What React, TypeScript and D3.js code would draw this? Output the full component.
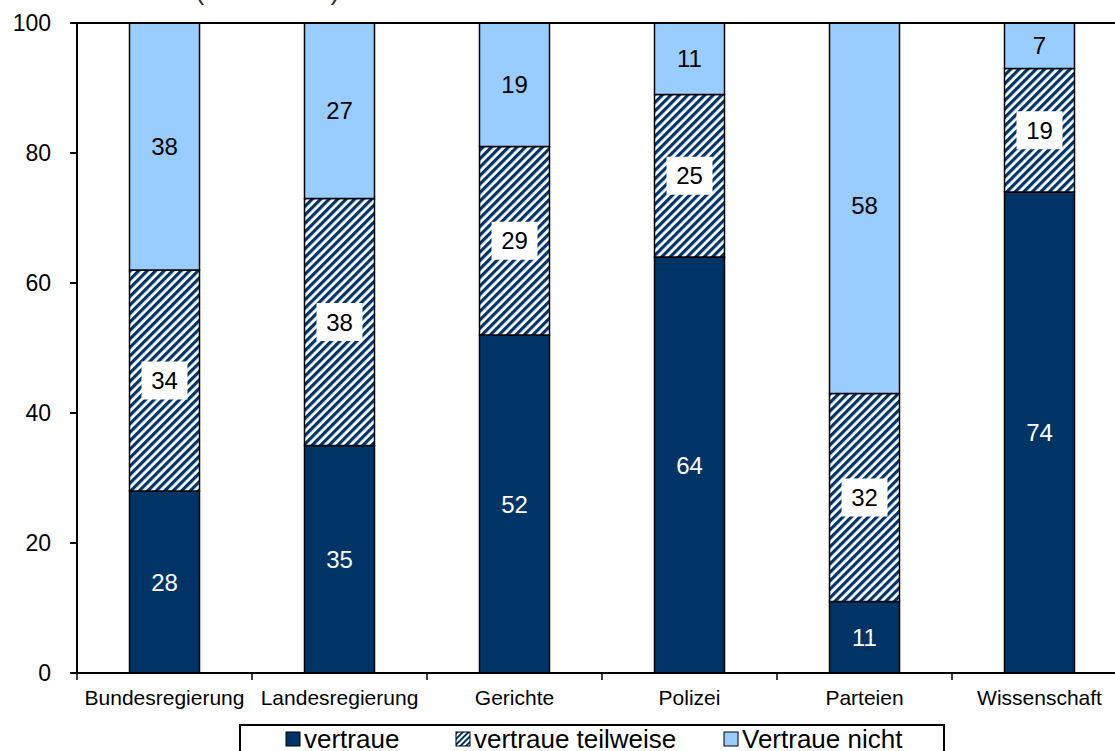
import React from "react";
import * as d3 from "d3";

const categories = ["Bundesregierung", "Landesregierung", "Gerichte", "Polizei", "Parteien", "Wissenschaft"];
const vertraue = [28, 35, 52, 64, 11, 74];
const teilweise = [34, 38, 29, 25, 32, 19];
const nicht = [38, 27, 19, 11, 58, 7];
const yTicks = [0, 20, 40, 60, 80, 100];
const seriesNames = ["vertraue", "vertraue teilweise", "Vertraue nicht"];

const NAVY = "#003366";
const LIGHT = "#99CCFF";
const FONT = "Arial, 'Liberation Sans', sans-serif";

export default function App() {
  const W = 1115, H = 751;
  const x = d3.scaleBand<string>().domain(categories).range([77, 1127]).paddingInner(0.6).paddingOuter(0.3);
  const y = d3.scaleLinear().domain([0, 100]).range([673, 23]);

  const rows = categories.map((c, i) => ({ cat: c, v: vertraue[i], t: teilweise[i], n: nicht[i] }));
  const stack = d3.stack<any>().keys(["v", "t", "n"])(rows as any);
  const fills = [NAVY, "url(#hatch)", LIGHT];

  const step = x.step();
  return (
    <svg width={W} height={H} style={{ position: "absolute", left: 0, top: 0, background: "#fff" }} fontFamily={FONT}>
      <defs>
        <pattern id="hatch" patternUnits="userSpaceOnUse" width={6} height={6} patternTransform="rotate(45)">
          <rect x={0} y={0} width={6} height={6} fill="#fff" />
          <rect x={0} y={0} width={3.2} height={6} fill={NAVY} />
        </pattern>
        <pattern id="hatchLegend" patternUnits="userSpaceOnUse" width={4} height={4} patternTransform="rotate(45)">
          <rect x={0} y={0} width={4} height={4} fill="#fff" />
          <rect x={0} y={0} width={2} height={4} fill={NAVY} />
        </pattern>
        <clipPath id="plotClip">
          <rect x={0} y={y(100)} width={W} height={y(0) - y(100)} />
        </clipPath>
      </defs>
      <rect x={0} y={0} width={W} height={H} fill="#fff" />
      <text x={195} y={-1.5} fontSize={28} fill="#333">(in Prozent)</text>

      <g clipPath="url(#plotClip)">
        {stack.map((layer, si) =>
          layer.map((d, i) => {
            const x0 = x(categories[i])!;
            const top = y(d[1]);
            const bot = y(d[0]);
            return (
              <rect key={`${si}-${i}`} x={x0} y={top} width={x.bandwidth()} height={bot - top}
                fill={fills[si]} stroke="#000" strokeWidth={1.5} />
            );
          })
        )}
      </g>

      {stack.map((layer, si) =>
        layer.map((d, i) => {
          const cx = x(categories[i])! + x.bandwidth() / 2;
          const cy = y((d[0] + d[1]) / 2);
          const val = d[1] - d[0];
          return (
            <g key={`l${si}-${i}`}>
              {si === 1 && <rect x={cx - 23} y={cy - 19} width={46} height={38} fill="#fff" />}
              <text x={cx} y={cy} dy="0.36em" textAnchor="middle" fontSize={24}
                fill={si === 0 ? "#fff" : "#000"}>{val}</text>
            </g>
          );
        })
      )}

      {/* axes */}
      <line x1={70} x2={W} y1={y(100)} y2={y(100)} stroke="#000" strokeWidth={2} />
      <line x1={70} x2={W} y1={y(0)} y2={y(0)} stroke="#000" strokeWidth={2} />
      <line x1={77} x2={77} y1={y(100)} y2={y(0)} stroke="#000" strokeWidth={2} />
      {yTicks.map((t) => (
        <g key={t}>
          <line x1={70} x2={77} y1={y(t)} y2={y(t)} stroke="#000" strokeWidth={2} />
          <text x={51} y={y(t)} dy="0.36em" textAnchor="end" fontSize={23} fill="#000">{t}</text>
        </g>
      ))}
      {categories.map((c, i) => {
        const bx = x(c)! - x.paddingInner() * step / 2;
        return (
          <g key={c}>
            <line x1={bx} x2={bx} y1={y(0)} y2={y(0) + 7} stroke="#000" strokeWidth={1.5} />
            <text x={x(c)! + x.bandwidth() / 2} y={705} textAnchor="middle" fontSize={21} fill="#000">{c}</text>
          </g>
        );
      })}

      {/* legend */}
      <rect x={240} y={725} width={704} height={40} fill="#fff" stroke="#000" strokeWidth={2} />
      {seriesNames.map((s, i) => {
        const lx = [286, 456, 724][i];
        return (
          <g key={s}>
            <rect x={lx} y={732} width={14} height={14} fill={[NAVY, "url(#hatchLegend)", LIGHT][i]} stroke="#000" strokeWidth={1} />
            <text x={lx + 18} y={748} fontSize={26} fill="#000">{s}</text>
          </g>
        );
      })}
    </svg>
  );
}
